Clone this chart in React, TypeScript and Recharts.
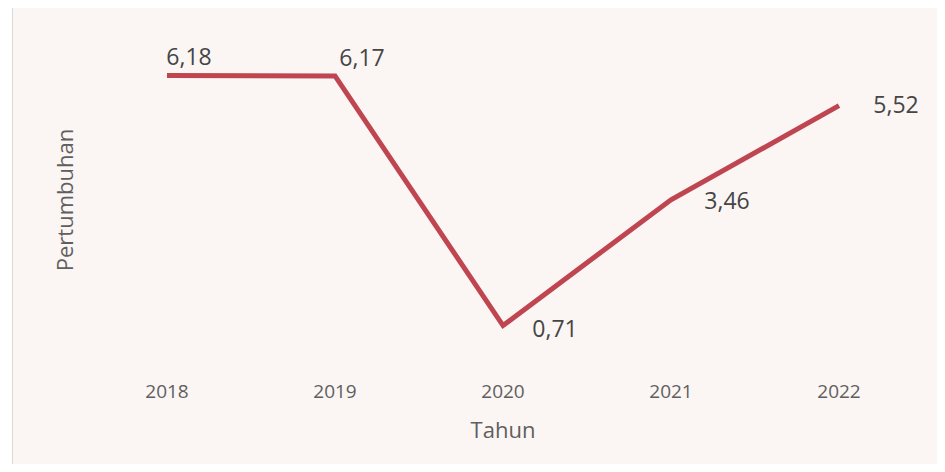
import { LineChart, Line, XAxis, YAxis, LabelList } from 'recharts';

const years = ['2018', '2019', '2020', '2021', '2022'];
const growth = [6.18, 6.17, 0.71, 3.46, 5.52];

const data = years.map((year, i) => ({ year, value: growth[i] }));

// label offsets relative to each point (px), like the hand-placed excel labels
const labelOffsets = [
  { dx: 22, dy: -10 },
  { dx: 27, dy: -10 },
  { dx: 52, dy: 11 },
  { dx: 56, dy: 9 },
  { dx: 57, dy: 7 },
];

const font = '"Open Sans", sans-serif';

function ValueLabel(props: any) {
  const { x, y, index, value } = props;
  const off = labelOffsets[index] || { dx: 0, dy: -10 };
  return (
    <text x={x + off.dx} y={y + off.dy} textAnchor="middle" fill="#454545" fontSize={23} fontFamily={font}>
      {String(value).replace('.', ',')}
    </text>
  );
}

function YearTick(props: any) {
  const { x, y, payload } = props;
  return (
    <text x={x} y={y} textAnchor="middle" fill="#5f5f5f" fontSize={19} fontFamily={font}>
      {payload.value}
    </text>
  );
}

function YTitle(props: any) {
  const vb = props.viewBox || { x: 0, y: 0, width: 0, height: 0 };
  const cx = vb.x + 60;
  const cy = vb.y + vb.height / 2 + 2;
  return (
    <text transform={`translate(${cx},${cy}) rotate(-90)`} textAnchor="middle" fill="#5f5f5f" fontSize={22} fontFamily={font}>
      Pertumbuhan
    </text>
  );
}

function XTitle(props: any) {
  const vb = props.viewBox || { x: 0, y: 0, width: 0, height: 0 };
  const cx = vb.x + vb.width / 2;
  const cy = vb.y + 80;
  return (
    <text x={cx} y={cy} textAnchor="middle" fill="#5f5f5f" fontSize={22} fontFamily={font}>
      Tahun
    </text>
  );
}

function App() {
  return (
    <div style={{ margin: -8, width: 945, height: 472, background: '#fff', position: 'relative' }}>
      <div
        style={{
          position: 'absolute', left: 12, top: 7, width: 933, height: 465,
          background: '#fbf5f3', borderLeft: '1px solid #d9d9d9', borderTop: '1px solid #d9d9d9',
          boxSizing: 'border-box',
        }}
      >
        <LineChart width={932} height={464} data={data} margin={{ top: 30, right: 106, bottom: 14, left: 0 }}>
          <XAxis
            dataKey="year"
            axisLine={false}
            tickLine={false}
            tick={<YearTick />}
            tickMargin={34}
            height={100}
            label={<XTitle />}
          />
          <YAxis
            domain={[0, 7]}
            tick={false}
            axisLine={false}
            tickLine={false}
            width={154}
            label={<YTitle />}
          />
          <Line
            type="linear"
            dataKey="value"
            stroke="#bf4550"
            strokeWidth={5}
            dot={false}
            isAnimationActive={false}
          >
            <LabelList dataKey="value" content={<ValueLabel />} />
          </Line>
        </LineChart>
      </div>
    </div>
  );
}

export default App;
